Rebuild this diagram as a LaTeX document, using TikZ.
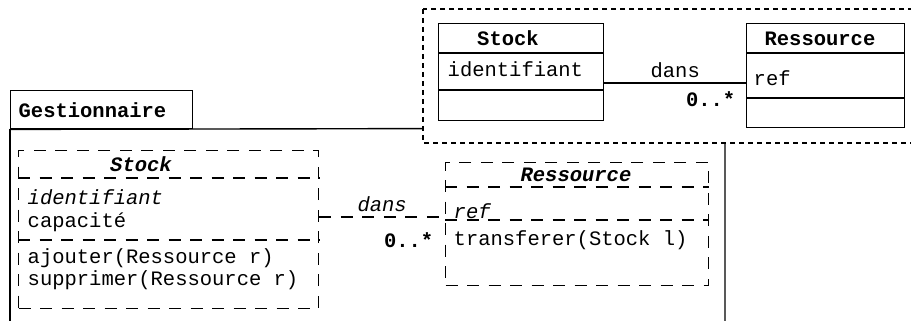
\documentclass[tikz,border=0pt]{standalone}
\usepackage{fontspec}
\setmainfont{Liberation Mono}
\newcommand{\umlfont}{\fontsize{20.5}{24}\selectfont}
\begin{document}
\begin{tikzpicture}[x=1pt, y=-1pt, line width=1.4pt,
		font=\umlfont,
		classbox/.style={draw, inner sep=0pt, anchor=north west},
		longdash/.style={dash pattern=on 12pt off 9.5pt},
		abstractbox/.style={classbox, longdash},
		viewframe/.style={fill=white, dash pattern=on 5pt off 4pt},
		txt/.style={inner sep=0pt, anchor=west},
		ttl/.style={inner sep=0pt, font=\umlfont\bfseries},
		attl/.style={inner sep=0pt, font=\umlfont\bfseries\itshape},
		mult/.style={inner sep=0pt, anchor=east, font=\umlfont\bfseries}]
	\useasboundingbox (0,0) rectangle (911,321);

	% Package Gestionnaire
	\node[classbox, minimum width=182pt, minimum height=38pt, text width=166pt, inner xsep=8pt, align=left] (gest) at (10,90) {\bfseries Gestionnaire};
	\draw (gest.south west) -- (10,330);
	\draw (gest.south west) -- (725,128) -- (725,330);

	% Framed view over the package
	\draw[viewframe] (423,9) rectangle (930,143);

	% Stock (plain)
	\node[classbox, minimum width=165pt, minimum height=97pt] (stockTop) at (438,23) {};
	\foreach \d in {30,67}
		\draw ([yshift=-\d pt]stockTop.north west) -- ([yshift=-\d pt]stockTop.north east);
	\node[ttl] (stockTopName) at (508,38) {Stock};
	\node[txt] (stockTopId) at (447,69) {identifiant};

	% Ressource (plain)
	\node[classbox, minimum width=158pt, minimum height=104pt] (ressTop) at (746,23) {};
	\foreach \d in {30,75}
		\draw ([yshift=-\d pt]ressTop.north west) -- ([yshift=-\d pt]ressTop.north east);
	\node[ttl] (ressTopName) at (820,39) {Ressource};
	\node[txt] (ressTopRef) at (753,78) {ref};

	% Association dans (top)
	\coordinate (lnkA) at (0,83);
	\draw (stockTop.east |- lnkA) -- node[above=5pt, inner sep=0pt] (dansTop) {dans} (ressTop.west |- lnkA);
	\node[mult] (multTop) at (736,99) {0..*};

	% Stock (abstract)
	\node[abstractbox, minimum width=300pt, minimum height=158pt] (stockIn) at (18,150) {};
	\foreach \d in {28,90}
		\draw[longdash] ([yshift=-\d pt]stockIn.north west) -- ([yshift=-\d pt]stockIn.north east);
	\node[attl] (stockInName) at (141,164) {Stock};
	\node[txt, font=\umlfont\itshape] (stockInId) at (27,197) {identifiant};
	\node[txt] (stockInCap) at (27,222) {capacité};
	\node[txt] (stockInAdd) at (27,258) {ajouter(Ressource r)};
	\node[txt] (stockInDel) at (27,280) {supprimer(Ressource r)};

	% Ressource (abstract)
	\node[abstractbox, minimum width=263pt, minimum height=123pt] (ressIn) at (445,162) {};
	\foreach \d in {25,58}
		\draw[longdash] ([yshift=-\d pt]ressIn.north west) -- ([yshift=-\d pt]ressIn.north east);
	\node[attl] (ressInName) at (576,175) {Ressource};
	\node[txt, font=\umlfont\itshape] (ressInRef) at (453,211) {ref};
	\node[txt] (ressInMove) at (453,240) {transferer(Stock l)};

	% Association dans (abstract)
	\coordinate (lnkB) at (0,217);
	\draw[longdash] (stockIn.east |- lnkB) -- node[above=5pt, inner sep=0pt, font=\umlfont\itshape] (dansIn) {dans} (ressIn.west |- lnkB);
	\node[mult] (multIn) at (434,240) {0..*};
\end{tikzpicture}
\end{document}
